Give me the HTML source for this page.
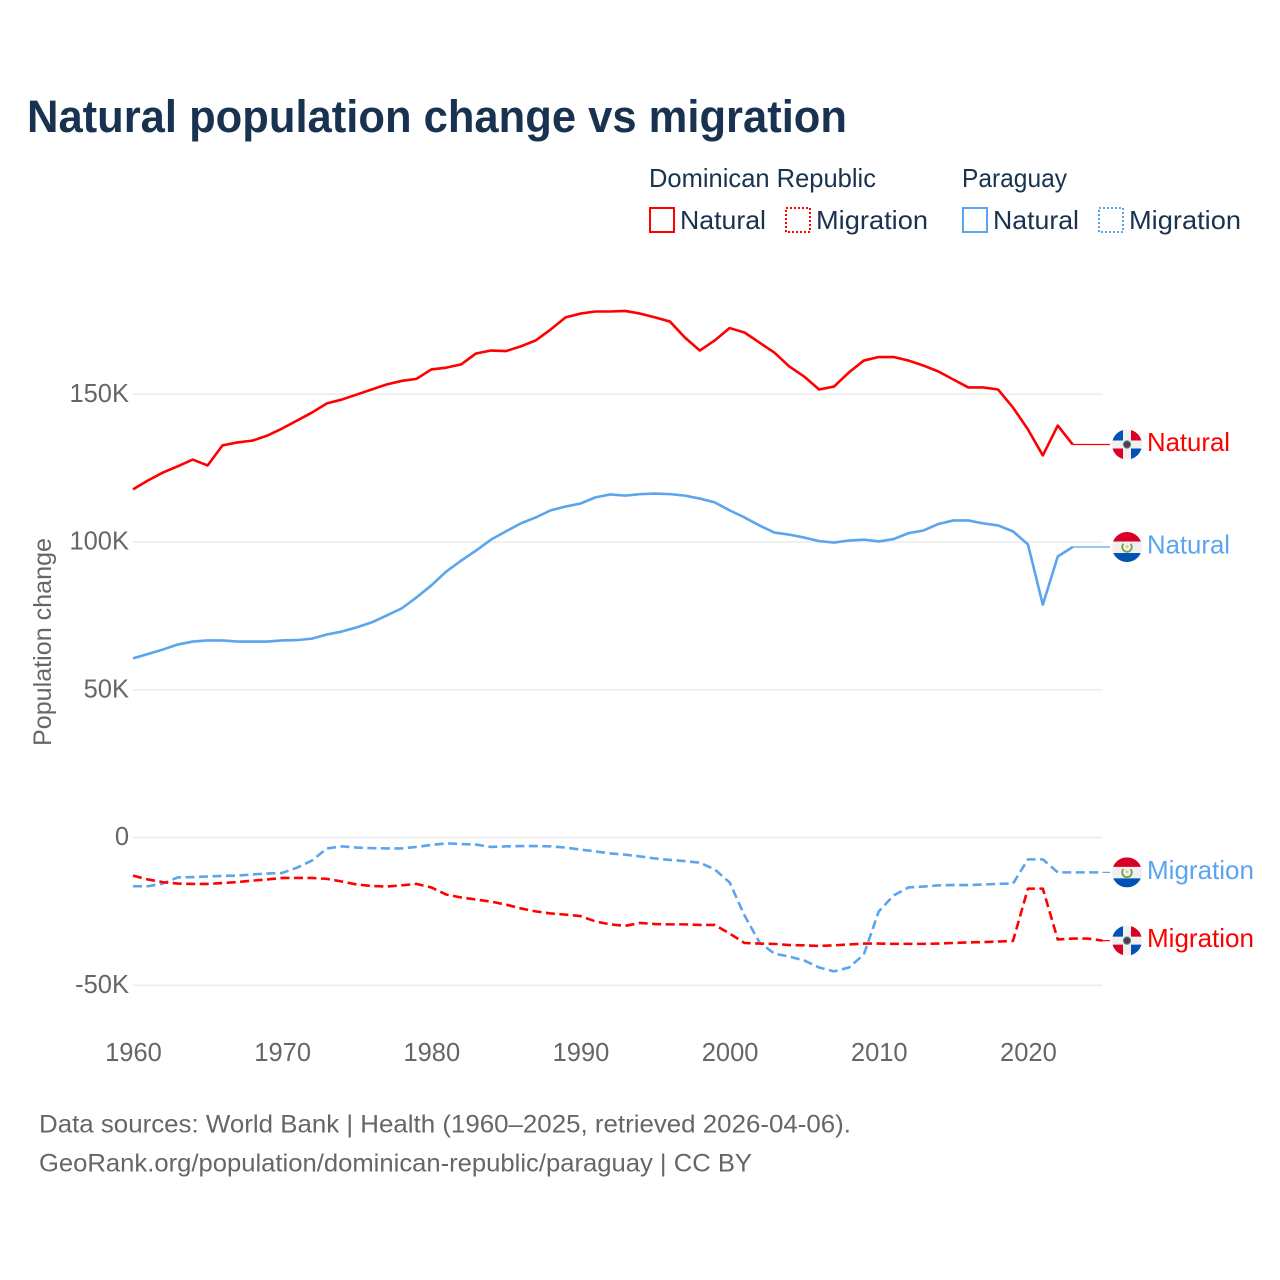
<!DOCTYPE html>
<html lang="en">
<head>
<meta charset="utf-8">
<title>Natural population change vs migration</title>
<style>
html,body{margin:0;padding:0;background:#fff;}
svg{display:block;font-family:"Liberation Sans",sans-serif;}
</style>
</head>
<body>
<svg id="chart" xmlns="http://www.w3.org/2000/svg" width="1280" height="1280" viewBox="0 0 1280 1280">
  <defs>
    <clipPath id="flag-clip"><circle cx="0" cy="0" r="15"/></clipPath>
    <g id="flag-dr" clip-path="url(#flag-clip)">
      <rect x="-15" y="-15" width="30" height="30" fill="#f0f0f0"/>
      <rect x="-15" y="-15" width="11" height="11" fill="#0052b4"/>
      <rect x="4" y="-15" width="11" height="11" fill="#d80027"/>
      <rect x="-15" y="4" width="11" height="11" fill="#d80027"/>
      <rect x="4" y="4" width="11" height="11" fill="#0052b4"/>
      <circle r="4.2" fill="#6da544"/>
      <circle r="3.2" fill="#0052b4"/>
      <rect x="-2" y="-1.2" width="4" height="3" fill="#d80027"/>
    </g>
    <g id="flag-py" clip-path="url(#flag-clip)">
      <rect x="-15" y="-15" width="30" height="30" fill="#f0f0f0"/>
      <rect x="-15" y="-15" width="30" height="9.5" fill="#d80027"/>
      <rect x="-15" y="6" width="30" height="9" fill="#0052b4"/>
      <path d="M-3.6 -3.2 A4.8 4.8 0 1 0 3.6 -3.2" fill="none" stroke="#6da544" stroke-width="1.8"/>
      <circle cx="0" cy="-0.5" r="1.4" fill="#ffb0a0"/>
    </g>
  </defs>

  <rect x="0" y="0" width="1280" height="1280" fill="#ffffff"/>

  <text x="27" y="132" font-size="45" font-weight="700" fill="#18324f" textLength="820" lengthAdjust="spacingAndGlyphs">Natural population change vs migration</text>

  <g font-size="26" fill="#18324f">
    <text x="649" y="187" textLength="227" lengthAdjust="spacingAndGlyphs">Dominican Republic</text>
    <text x="962" y="187" textLength="105" lengthAdjust="spacingAndGlyphs">Paraguay</text>
    <rect x="650" y="208" width="24" height="24" fill="none" stroke="#ff0000" stroke-width="2"/>
    <text x="680" y="229" textLength="86" lengthAdjust="spacingAndGlyphs">Natural</text>
    <rect x="786" y="208" width="24" height="24" fill="none" stroke="#ff0000" stroke-width="2" stroke-dasharray="2 2"/>
    <text x="816" y="229" textLength="112" lengthAdjust="spacingAndGlyphs">Migration</text>
    <rect x="963" y="208" width="24" height="24" fill="none" stroke="#5ba4ee" stroke-width="2"/>
    <text x="993" y="229" textLength="86" lengthAdjust="spacingAndGlyphs">Natural</text>
    <rect x="1099" y="208" width="24" height="24" fill="none" stroke="#5ba4ee" stroke-width="2" stroke-dasharray="2 2"/>
    <text x="1129" y="229" textLength="112" lengthAdjust="spacingAndGlyphs">Migration</text>
  </g>

  <text transform="translate(51 642) rotate(-90)" text-anchor="middle" font-size="25" fill="#666666" textLength="208" lengthAdjust="spacingAndGlyphs">Population change</text>

  <g id="grid"></g>
  <g id="y-ticks"></g>
  <g id="x-ticks"></g>
  <g id="series"></g>
  <g id="end-labels"></g>

  <g font-size="25" fill="#666666">
    <text x="39" y="1132.5" textLength="812" lengthAdjust="spacingAndGlyphs">Data sources: World Bank | Health (1960–2025, retrieved 2026-04-06).</text>
    <text x="39" y="1171.5" textLength="713" lengthAdjust="spacingAndGlyphs">GeoRank.org/population/dominican-republic/paraguay | CC BY</text>
  </g>
</svg>

<script>
const years = [1960,1961,1962,1963,1964,1965,1966,1967,1968,1969,1970,1971,1972,1973,1974,1975,1976,1977,1978,1979,1980,1981,1982,1983,1984,1985,1986,1987,1988,1989,1990,1991,1992,1993,1994,1995,1996,1997,1998,1999,2000,2001,2002,2003,2004,2005,2006,2007,2008,2009,2010,2011,2012,2013,2014,2015,2016,2017,2018,2019,2020,2021,2022,2023,2024,2025];
const drNatural = [117.8,120.8,123.5,125.6,127.9,125.9,132.7,133.7,134.3,136,138.4,141.1,143.8,146.9,148.2,149.9,151.6,153.3,154.5,155.2,158.4,159,160.1,163.8,164.8,164.6,166.2,168.2,171.9,176,177.3,178,178,178.2,177.3,176,174.6,169.2,164.8,168.2,172.4,170.9,167.5,164.1,159.4,156,151.6,152.6,157.4,161.4,162.6,162.6,161.4,159.7,157.7,155,152.3,152.3,151.6,145.5,138.1,129.3,139.4,133];
const pyNatural = [60.6,62.1,63.6,65.3,66.3,66.7,66.7,66.3,66.3,66.3,66.7,66.8,67.3,68.7,69.7,71.1,72.8,75.1,77.5,81.2,85.3,90,93.7,97.1,100.8,103.6,106.3,108.3,110.7,112,113,115.1,116.1,115.7,116.2,116.4,116.2,115.7,114.7,113.4,110.7,108.3,105.6,103.2,102.5,101.5,100.3,99.8,100.5,100.8,100.2,101,103,103.9,106.1,107.3,107.3,106.3,105.6,103.6,99.2,78.8,95.1,98.3];
const drMigration = [-12.9,-14.2,-15.1,-15.6,-15.7,-15.7,-15.4,-15.1,-14.6,-14.2,-13.7,-13.7,-13.7,-14,-14.9,-15.9,-16.4,-16.6,-16.2,-15.7,-16.9,-19.3,-20.3,-21,-21.7,-22.7,-24,-25,-25.7,-26.1,-26.6,-28.4,-29.4,-29.9,-28.9,-29.3,-29.4,-29.4,-29.6,-29.6,-32.5,-35.7,-35.9,-36,-36.4,-36.5,-36.7,-36.5,-36.2,-35.9,-35.9,-36,-36,-36,-35.9,-35.7,-35.5,-35.4,-35.2,-35,-17.3,-17.3,-34.5,-34.2,-34.2,-34.9];
const pyMigration = [-16.5,-16.5,-15.6,-13.5,-13.4,-13.2,-13,-12.9,-12.5,-12.2,-12,-10.2,-7.8,-3.7,-3,-3.4,-3.6,-3.7,-3.7,-3.2,-2.5,-2,-2.2,-2.4,-3.2,-3,-2.9,-2.9,-3,-3.4,-4.1,-4.7,-5.4,-5.8,-6.4,-7.1,-7.6,-8,-8.5,-10.8,-15.2,-26.4,-35.5,-39.3,-40.3,-41.6,-44,-45.3,-44,-39.6,-25,-19.6,-16.9,-16.6,-16.2,-16.1,-16.1,-15.9,-15.7,-15.6,-7.4,-7.4,-11.8,-11.8,-11.8,-11.8];
const yTickValues = [150,100,50,0,-50];
const yTickLabels = ["150K","100K","50K","0","-50K"];
const xTickValues = [1960,1970,1980,1990,2000,2010,2020];

const NS = "http://www.w3.org/2000/svg";
const RED = "#ff0000";
const BLUE = "#5ba4ee";
const X_LEFT = 133, X_RIGHT = 1102.5, CONNECT_END = 1110, FLAG_X = 1127, LABEL_X = 1147;

function xScale(year){ return X_LEFT + (year - 1960) * (X_RIGHT - X_LEFT) / 65; }
function yScale(v){ return 837.5 - v * 2.955; }
function make(tag, attrs, parent){
  const el = document.createElementNS(NS, tag);
  for (const k in attrs) el.setAttribute(k, attrs[k]);
  parent.appendChild(el);
  return el;
}

const gridG = document.getElementById("grid");
const yG = document.getElementById("y-ticks");
const xG = document.getElementById("x-ticks");
const seriesG = document.getElementById("series");
const labelG = document.getElementById("end-labels");

yTickValues.forEach(function(v, i){
  const line = make("line", {x1:X_LEFT, x2:X_RIGHT, y1:yScale(v), y2:yScale(v), stroke:"#ebebeb", "stroke-width":1.5}, gridG);
  
  
  const t = make("text", {x:129, y:yScale(v)+7.5, "text-anchor":"end", "font-size":25.5, fill:"#666666"}, yG);
  
  
  t.textContent = yTickLabels[i];
});

xTickValues.forEach(function(yr){
  const t = make("text", {x:xScale(yr)+0.5, y:1061, "text-anchor":"middle", "font-size":25.5, fill:"#666666"}, xG);
  
  
  t.textContent = String(yr);
});

function drawSeries(values, color, dashed, flag, label, nameBase, labelWidth){
  const pts = values.map(function(v, i){ return xScale(years[i]).toFixed(2) + "," + yScale(v).toFixed(2); }).join(" ");
  const attrs = {points:pts, fill:"none", stroke:color, "stroke-width":2.6, "stroke-linejoin":"round"};
  if (dashed) attrs["stroke-dasharray"] = "9 4.5";
  const line = make("polyline", attrs, seriesG);
  
  

  const lastV = values[values.length - 1];
  const lastX = xScale(years[values.length - 1]);
  const endY = yScale(lastV);
  const conn = make("line", {x1:lastX, x2:CONNECT_END, y1:endY, y2:endY, stroke:color, "stroke-width":1.2}, labelG);
  
  

  const use = make("use", {href:"#" + flag, transform:"translate(" + FLAG_X + " " + endY.toFixed(2) + ")"}, labelG);
  
  

  const t = make("text", {x:LABEL_X, y:(endY + 6.5).toFixed(2), "font-size":26, fill:color, textLength:labelWidth, lengthAdjust:"spacingAndGlyphs"}, labelG);
  
  
  t.textContent = label;
}

drawSeries(drNatural, RED, false, "flag-dr", "Natural", "dr-natural", 83);
drawSeries(pyNatural, BLUE, false, "flag-py", "Natural", "py-natural", 83);
drawSeries(pyMigration, BLUE, true, "flag-py", "Migration", "py-migration", 107);
drawSeries(drMigration, RED, true, "flag-dr", "Migration", "dr-migration", 107);
</script>
</body>
</html>
